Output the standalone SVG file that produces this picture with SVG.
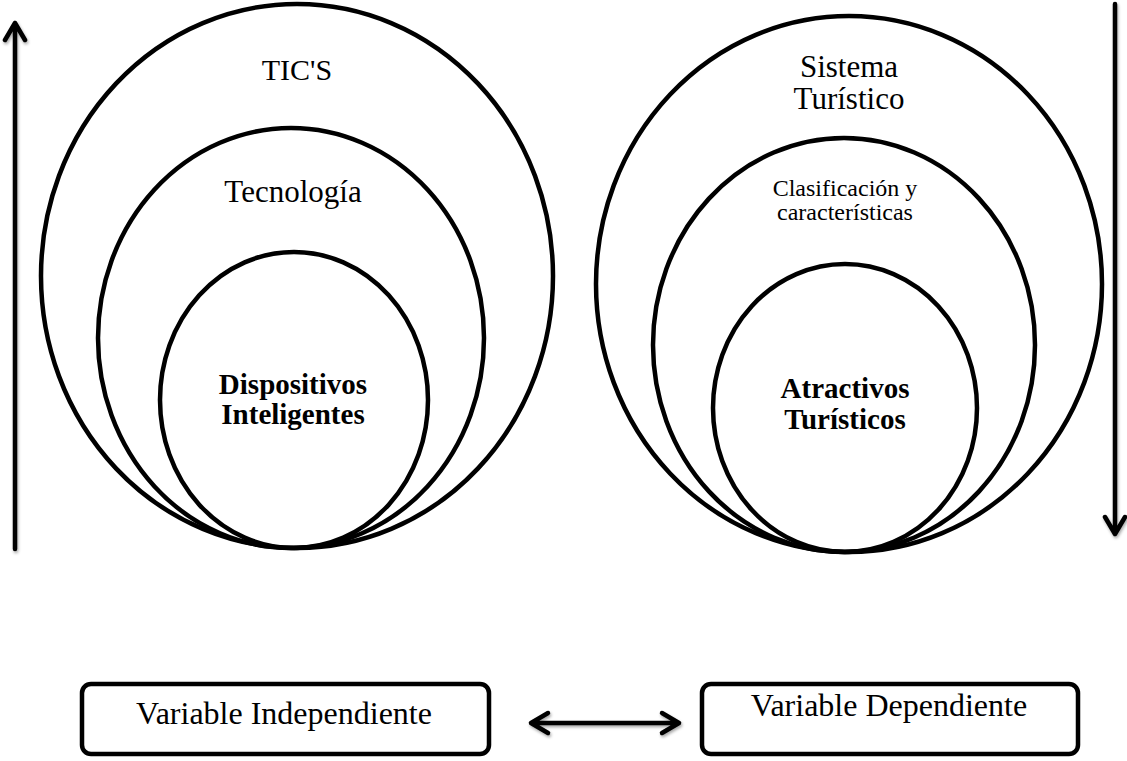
<svg xmlns="http://www.w3.org/2000/svg" width="1127" height="761" viewBox="0 0 1127 761">
<defs>
<style>
.e{fill:none;stroke:#000;stroke-width:4.5}
.ln{fill:none;stroke:#000;stroke-width:4.5;stroke-linecap:round;stroke-linejoin:round}
.t{font-family:"Liberation Serif","Times New Roman",serif;fill:#000;text-anchor:middle}
.b{font-weight:bold}
.box{fill:#fff;stroke:#000;stroke-width:4.5}
</style>
<filter id="sh" x="-20%" y="-20%" width="140%" height="140%">
<feDropShadow dx="1" dy="2" stdDeviation="1.5" flood-color="#000" flood-opacity="0.35"/>
</filter>
</defs>
<rect width="1127" height="761" fill="#fff"/>
<g id="left-outer">
<ellipse class="e" cx="297" cy="276" rx="256" ry="272"/>
<text class="t" x="297" y="80" font-size="30">TIC'S</text>
</g>
<g id="left-middle">
<ellipse class="e" cx="291" cy="338" rx="193" ry="210"/>
<text class="t" x="293" y="202" font-size="31">Tecnología</text>
</g>
<g id="left-inner">
<ellipse class="e" cx="294" cy="400" rx="134" ry="148"/>
<text class="t b" x="293" y="394" font-size="29">Dispositivos</text>
<text class="t b" x="293" y="424" font-size="29">Inteligentes</text>
</g>
<g id="right-outer">
<ellipse class="e" cx="849" cy="284" rx="253" ry="268"/>
<text class="t" x="849" y="77" font-size="31">Sistema</text>
<text class="t" x="849" y="109" font-size="31">Turístico</text>
</g>
<g id="right-middle">
<ellipse class="e" cx="844" cy="345" rx="191" ry="207"/>
<text class="t" x="845" y="196" font-size="24">Clasificación y</text>
<text class="t" x="845" y="220" font-size="24">características</text>
</g>
<g id="right-inner">
<ellipse class="e" cx="845" cy="408" rx="132" ry="144"/>
<text class="t b" x="845" y="398" font-size="29">Atractivos</text>
<text class="t b" x="845" y="429" font-size="29">Turísticos</text>
</g>
<g id="box-independiente">
<rect class="box" x="82" y="684" width="407" height="70" rx="9"/>
<text class="t" x="284" y="724" font-size="32">Variable Independiente</text>
</g>
<g id="box-dependiente">
<rect class="box" x="702" y="684" width="376" height="70" rx="9"/>
<text class="t" x="889" y="716" font-size="32">Variable Dependiente</text>
</g>
<g id="connectors" filter="url(#sh)">
<path class="ln" d="M15 549 V23 M5 40 L15 23 L25 40"/>
<path class="ln" d="M1115 4 V534 M1105 517 L1115 534 L1125 517"/>
<path class="ln" d="M531 723 H679 M548 713 L531 723 L548 733 M662 713 L679 723 L662 733"/>
</g>
</svg>
